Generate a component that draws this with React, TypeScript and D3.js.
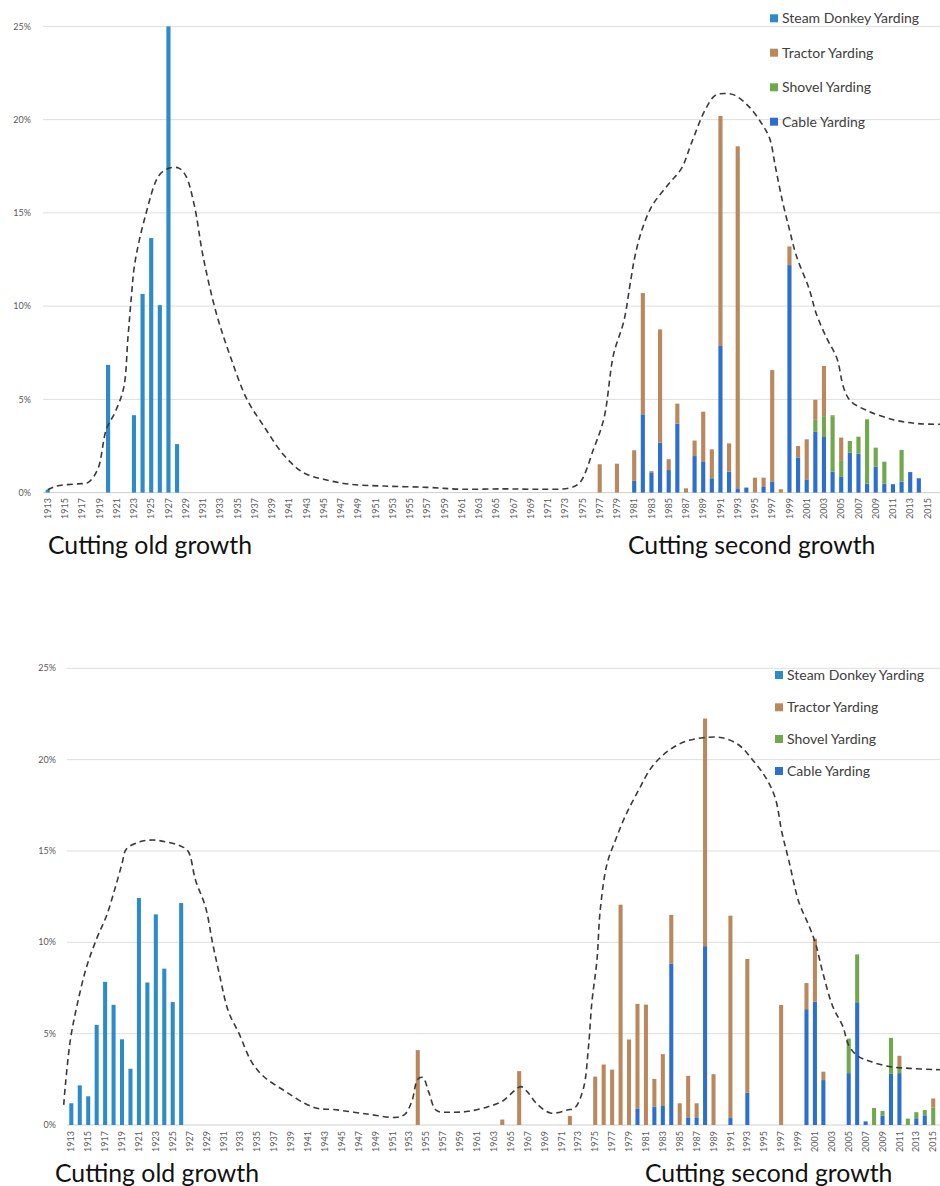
import React from 'react';
import * as d3 from 'd3';

// ---------- shared categories / labels ----------
const YEARS: number[] = d3.range(1913, 2018);
const Y_TICKS = [0, 5, 10, 15, 20, 25];
const SERIES_KEYS = ['steam', 'tractor', 'shovel', 'cable'];
const SERIES_LABELS = ['Steam Donkey Yarding', 'Tractor Yarding', 'Shovel Yarding', 'Cable Yarding'];
const STACK_ORDER = ['cable', 'shovel', 'tractor', 'steam'];
const TITLE_LEFT = 'Cutting old growth';
const TITLE_RIGHT = 'Cutting second growth';

// ---------- top chart data (percent) ----------
const topYears = [1913, 1920, 1923, 1924, 1925, 1926, 1927, 1928, 1977, 1979,
  1981, 1982, 1983, 1984, 1985, 1986, 1987, 1988, 1989, 1990,
  1991, 1992, 1993, 1994, 1995, 1996, 1997, 1998, 1999, 2000,
  2001, 2002, 2003, 2004, 2005, 2006, 2007, 2008, 2009, 2010,
  2011, 2012, 2013, 2014];
const topSteam = [0.15, 6.85, 4.15, 10.65, 13.65, 10.05, 25.0, 2.6, 0, 0,
  0, 0, 0, 0, 0, 0, 0, 0, 0, 0,
  0, 0, 0, 0, 0, 0, 0, 0, 0, 0,
  0, 0, 0, 0, 0, 0, 0, 0, 0, 0,
  0, 0, 0, 0];
const topCable = [0, 0, 0, 0, 0, 0, 0, 0, 0, 0,
  0.63, 4.2, 1.05, 2.68, 1.21, 3.7, 0, 1.96, 1.64, 0.77,
  7.86, 1.13, 0.23, 0.27, 0, 0.3, 0.6, 0, 12.2, 1.88,
  0.71, 3.26, 2.98, 1.13, 0.84, 2.14, 2.09, 0.48, 1.39, 0.48,
  0.45, 0.59, 1.1, 0.77];
const topShovel = [0, 0, 0, 0, 0, 0, 0, 0, 0, 0,
  0, 0, 0, 0, 0, 0, 0, 0, 0, 0,
  0, 0, 0, 0, 0, 0, 0, 0, 0, 0,
  0, 0.64, 1.12, 2.97, 0.86, 0.63, 0.91, 3.45, 1.02, 1.18,
  0, 1.7, 0, 0];
const topTractor = [0, 0, 0, 0, 0, 0, 0, 0, 1.52, 1.55,
  1.64, 6.5, 0.1, 6.07, 0.58, 1.07, 0.23, 0.83, 2.7, 1.55,
  12.34, 1.51, 18.34, 0, 0.8, 0.5, 5.97, 0.18, 1.0, 0.62,
  2.15, 1.08, 2.69, 0.05, 1.25, 0, 0, 0, 0, 0,
  0, 0, 0, 0];
const topTrendYears = [1913, 1914, 1916.5, 1917.7, 1918.8, 1919.8, 1920.8, 1921.8, 1922.3, 1922.7,
  1923.1, 1924.3, 1925.9, 1927.1, 1928.2, 1929, 1930, 1931, 1932.5, 1934.1,
  1936.1, 1938, 1940.4, 1942.7, 1945.1, 1948, 1952, 1957, 1961, 1966,
  1970, 1973.5, 1974.7, 1976.3, 1977.5, 1978.6, 1979.8, 1980.6, 1981.1, 1981.9,
  1983.1, 1984.9, 1986.5, 1987.6, 1989.2, 1990.4, 1991.6, 1992.7, 1994.3, 1995.9,
  1996.7, 1997.4, 1998.2, 1999, 1999.8, 2001.3, 2002.1, 2003.3, 2004.5, 2005.3,
  2006.1, 2008, 2011.1, 2013.9, 2017];
const topTrendValues = [0.15, 0.35, 0.47, 0.55, 1.25, 3.4, 4.3, 5.6, 8.3, 10.5,
  12.3, 14.8, 17.0, 17.4, 17.4, 17.0, 15.4, 12.7, 9.7, 7.4,
  5.0, 3.6, 2.0, 1.05, 0.7, 0.45, 0.35, 0.28, 0.18, 0.2,
  0.18, 0.25, 0.54, 2.35, 4.0, 7.4, 9.2, 11.4, 12.7, 14.1,
  15.4, 16.5, 17.4, 18.7, 20.5, 21.3, 21.4, 21.3, 20.7, 19.7,
  19.0, 17.4, 15.6, 14.1, 12.7, 10.9, 9.6, 8.3, 7.2, 5.6,
  4.9, 4.4, 3.9, 3.7, 3.66];

// ---------- bottom chart data (percent) ----------
const botYears = [1913, 1914, 1915, 1916, 1917, 1918, 1919, 1920, 1921, 1922,
  1923, 1924, 1925, 1926, 1954, 1964, 1966, 1972, 1975, 1976,
  1977, 1978, 1979, 1980, 1981, 1982, 1983, 1984, 1985, 1986,
  1987, 1988, 1989, 1991, 1993, 1997, 2000, 2001, 2002, 2005,
  2006, 2007, 2008, 2009, 2010, 2011, 2012, 2013, 2014, 2015];
const botSteam = [1.19, 2.17, 1.57, 5.48, 7.84, 6.58, 4.69, 3.08, 12.43, 7.8,
  11.53, 8.56, 6.73, 12.15, 0, 0, 0, 0, 0, 0,
  0, 0, 0, 0, 0, 0, 0, 0, 0, 0,
  0, 0, 0, 0, 0, 0, 0, 0, 0, 0,
  0, 0, 0, 0, 0, 0, 0, 0, 0, 0];
const botCable = [0, 0, 0, 0, 0, 0, 0, 0, 0, 0,
  0, 0, 0, 0, 0, 0, 0, 0, 0, 0,
  0, 0, 0, 0.91, 0, 1.0, 1.04, 8.84, 0, 0.42,
  0.42, 9.79, 0, 0.38, 1.76, 0, 6.34, 6.76, 2.46, 2.84,
  6.72, 0.2, 0, 0.52, 2.8, 2.84, 0, 0.37, 0.53, 0];
const botShovel = [0, 0, 0, 0, 0, 0, 0, 0, 0, 0,
  0, 0, 0, 0, 0, 0, 0, 0, 0, 0,
  0, 0, 0, 0, 0, 0, 0, 0, 0, 0,
  0, 0, 0, 0, 0, 0, 0, 0, 0, 1.89,
  2.62, 0, 0.93, 0.25, 1.97, 0.3, 0.35, 0.33, 0.29, 0.95];
const botTractor = [0, 0, 0, 0, 0, 0, 0, 0, 0, 0,
  0, 0, 0, 0, 4.1, 0.3, 2.95, 0.5, 2.65, 3.31,
  3.03, 12.06, 4.68, 5.72, 6.59, 1.52, 2.84, 2.66, 1.19, 2.27,
  0.77, 12.46, 2.78, 11.08, 7.33, 6.57, 1.43, 3.44, 0.46, 0,
  0, 0, 0, 0, 0, 0.65, 0, 0, 0, 0.5];
const botTrendYears = [1912.1, 1912.3, 1912.9, 1913.7, 1914.8, 1916, 1917.2, 1918.2, 1919, 1919.5,
  1921.1, 1922.6, 1924.2, 1925.8, 1926.8, 1927.7, 1928.9, 1929.7, 1930.5, 1931.6,
  1932.8, 1934.4, 1935.9, 1938.3, 1940.6, 1942.2, 1944, 1948, 1951.5, 1952.5,
  1953.3, 1954, 1954.6, 1955.3, 1956.2, 1958, 1960, 1962.3, 1964, 1965.5,
  1966.2, 1967, 1968, 1969.7, 1971.7, 1972.6, 1973.6, 1974.2, 1974.6, 1975.2,
  1975.6, 1976.4, 1977.4, 1978.6, 1980.1, 1981.7, 1983.7, 1985.7, 1987.8, 1990,
  1992, 1993.6, 1995.2, 1996.3, 1997.1, 1997.9, 1999.1, 2000.3, 2001.1, 2001.9,
  2003.1, 2004.3, 2005, 2006, 2007.4, 2009.8, 2012.2, 2015.3, 2017];
const botTrendValues = [1.1, 2.2, 4.7, 6.6, 8.65, 10.2, 11.5, 13.0, 14.3, 15.1,
  15.5, 15.6, 15.5, 15.3, 15.0, 13.4, 11.9, 10.0, 8.3, 6.2,
  5.06, 3.4, 2.6, 1.85, 1.19, 0.9, 0.85, 0.6, 0.42, 0.6,
  1.3, 2.5, 2.6, 1.8, 0.8, 0.7, 0.75, 1.0, 1.3, 1.9,
  2.1, 1.8, 1.2, 0.66, 0.82, 0.95, 2.0, 4.26, 6.7, 9.0,
  11.8, 14.3, 15.6, 16.95, 18.3, 19.6, 20.5, 21.0, 21.2, 21.2,
  20.8, 20.0, 19.0, 17.9, 16.0, 14.5, 12.2, 10.9, 9.9, 8.4,
  6.5, 5.4, 4.36, 3.8, 3.5, 3.2, 3.1, 3.03, 3.0];

// ---------- styling ----------
const COLORS: Record<string, string> = {
  steam: '#2C8BC8',
  tractor: '#B9885C',
  shovel: '#70A84A',
  cable: '#2D6FCF',
};
const FONT = 'Lato, "Open Sans", sans-serif';
const WIDTH = 940;

type Layout = {
  bandStart: number; step: number; yBottom: number; yTop: number;
  gridLeft: number; yLabelRight: number; tickY: number;
  legSquareX: number; legTextX: number; legRows: number[];
  titleY: number; titleLeftX: number; titleRightX: number;
};

function Panel({ layout, years, steam, cable, shovel, tractor, trendYears, trendValues }: {
  layout: Layout; years: number[]; steam: number[]; cable: number[]; shovel: number[]; tractor: number[];
  trendYears: number[]; trendValues: number[];
}) {
  const L = layout;
  const x = d3.scaleBand<number>()
    .domain(YEARS)
    .range([L.bandStart, L.bandStart + L.step * YEARS.length])
    .paddingInner(0.52)
    .paddingOuter(0.26);
  const bw = x.bandwidth();
  const xc = d3.scaleLinear()
    .domain([YEARS[0], YEARS[YEARS.length - 1]])
    .range([x(YEARS[0])! + bw / 2, x(YEARS[YEARS.length - 1])! + bw / 2]);
  const y = d3.scaleLinear().domain([0, 25]).range([L.yBottom, L.yTop]);

  const rows = years.map((yr, i) => ({ year: yr, steam: steam[i], cable: cable[i], shovel: shovel[i], tractor: tractor[i] }));
  const stacked = d3.stack<any>().keys(STACK_ORDER)(rows);

  const trend = trendYears.map((yr, i) => [yr, trendValues[i]] as [number, number]);
  const line = d3.line<[number, number]>()
    .x(d => xc(d[0]))
    .y(d => y(d[1]))
    .curve(d3.curveCatmullRom.alpha(0.5));

  const tickYears = YEARS.filter((yr, i) => i % 2 === 0 && x(yr)! + bw / 2 + 5 <= WIDTH);

  return (
    <g>
      {Y_TICKS.map(t => (
        <g key={'g' + t}>
          <line x1={L.gridLeft} x2={WIDTH} y1={y(t)} y2={y(t)} stroke={t === 0 ? '#cfcfcf' : '#dedede'} strokeWidth={1} />
          <text x={L.yLabelRight} y={y(t)} dy="0.35em" textAnchor="end" fontSize={9} fill="#595959" fontFamily={FONT}>{t + '%'}</text>
        </g>
      ))}
      {tickYears.map(yr => (
        <text key={'t' + yr} transform={`translate(${x(yr)! + bw / 2},${L.tickY}) rotate(-90)`}
          dy="0.35em" textAnchor="end" fontSize={9} fill="#595959" fontFamily={FONT}>{yr}</text>
      ))}
      {stacked.map(s => (
        <g key={s.key} fill={COLORS[s.key]}>
          {s.map((d: any, i: number) => (d[1] - d[0] > 0 ? (
            <rect key={i} x={x(d.data.year)} y={y(d[1])} width={bw} height={y(d[0]) - y(d[1])} />
          ) : null))}
        </g>
      ))}
      <path d={line(trend)!} fill="none" stroke="#3a3a3a" strokeWidth={1.6} strokeDasharray="6 4" />
      {SERIES_KEYS.map((k, i) => (
        <g key={'l' + k}>
          <rect x={L.legSquareX} y={L.legRows[i] - 4} width={8} height={8} fill={COLORS[k]} />
          <text x={L.legTextX} y={L.legRows[i]} dy="0.35em" fontSize={14} fill="#404040" fontFamily={FONT}>{SERIES_LABELS[i]}</text>
        </g>
      ))}
      <text x={L.titleLeftX} y={L.titleY} fontSize={24.8} fill="#111" fontFamily={FONT}>{TITLE_LEFT}</text>
      <text x={L.titleRightX} y={L.titleY} fontSize={24.8} fill="#111" fontFamily={FONT}>{TITLE_RIGHT}</text>
    </g>
  );
}

const TOP_LAYOUT: Layout = {
  bandStart: 43.4, step: 8.625, yBottom: 492.6, yTop: 26.4,
  gridLeft: 43, yLabelRight: 31, tickY: 498,
  legSquareX: 770, legTextX: 782, legRows: [18.3, 52.7, 87.3, 121.7],
  titleY: 554, titleLeftX: 48, titleRightX: 628,
};
const BOTTOM_LAYOUT: Layout = {
  bandStart: 67.1, step: 8.45, yBottom: 1125, yTop: 668.3,
  gridLeft: 67, yLabelRight: 56, tickY: 1131,
  legSquareX: 775, legTextX: 787, legRows: [675, 707.3, 739, 771],
  titleY: 1182, titleLeftX: 55, titleRightX: 645,
};

export default function App() {
  return (
    <svg width={WIDTH} height={1186} style={{ position: 'absolute', left: 0, top: 0, background: '#fff', display: 'block' }}>
      <rect x={0} y={0} width={WIDTH} height={1186} fill="#fff" />
      <Panel layout={TOP_LAYOUT} years={topYears} steam={topSteam} cable={topCable} shovel={topShovel} tractor={topTractor}
        trendYears={topTrendYears} trendValues={topTrendValues} />
      <Panel layout={BOTTOM_LAYOUT} years={botYears} steam={botSteam} cable={botCable} shovel={botShovel} tractor={botTractor}
        trendYears={botTrendYears} trendValues={botTrendValues} />
    </svg>
  );
}
